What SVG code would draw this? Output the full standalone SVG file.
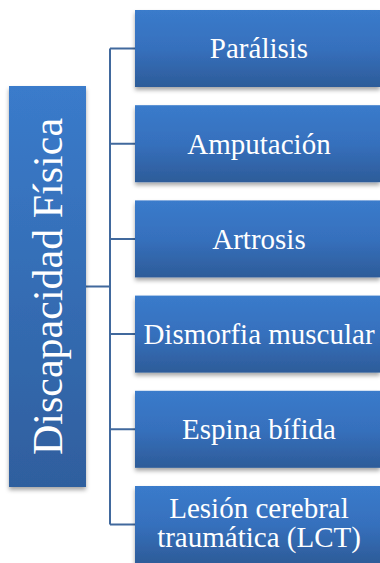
<svg xmlns="http://www.w3.org/2000/svg" width="380" height="563" viewBox="0 0 380 563">
<defs>
<linearGradient id="g" x1="0" y1="0" x2="0" y2="1">
<stop offset="0" stop-color="#3a7bcb"/>
<stop offset="0.5" stop-color="#3670bd"/>
<stop offset="1" stop-color="#2d5c99"/>
</linearGradient>
<linearGradient id="gl" x1="0" y1="0" x2="0" y2="1">
<stop offset="0" stop-color="#3a7bcb"/>
<stop offset="1" stop-color="#2f5f9e"/>
</linearGradient>
<filter id="sh" x="-10%" y="-10%" width="120%" height="130%">
<feDropShadow dx="0" dy="3" stdDeviation="2" flood-color="#000" flood-opacity="0.35"/>
</filter>
</defs>
<style>
.box{fill:url(#g);filter:url(#sh)}
.t{font-family:"Liberation Serif","Times New Roman",serif;fill:#fff;font-size:29px;text-anchor:middle}
.c{fill:none;stroke:#41699d;stroke-width:2}
</style>
<g id="connectors">
<path class="c" d="M86,286.5 H110 M110,48.5 V524.5 M110,48.5 H135 M110,143.7 H135 M110,238.9 H135 M110,334 H135 M110,429.3 H135 M110,524.5 H135"/>
</g>
<g id="root">
<rect x="9" y="86" width="77" height="401" fill="url(#gl)" filter="url(#sh)"/>
<text class="t" style="font-size:42px" transform="translate(62,286.5) rotate(-90)">Discapacidad Física</text>
</g>
<g id="n1"><rect class="box" x="135" y="10" width="245" height="77"/><text class="t" x="259" y="58">Parálisis</text></g>
<g id="n2"><rect class="box" x="135" y="105.2" width="245" height="77"/><text class="t" x="259" y="153.5">Amputación</text></g>
<g id="n3"><rect class="box" x="135" y="200.4" width="245" height="77"/><text class="t" x="259" y="248.7">Artrosis</text></g>
<g id="n4"><rect class="box" x="135" y="295.6" width="245" height="77"/><text class="t" x="259" y="344">Dismorfia muscular</text></g>
<g id="n5"><rect class="box" x="135" y="390.8" width="245" height="77"/><text class="t" x="259" y="439">Espina bífida</text></g>
<g id="n6"><rect class="box" x="135" y="486" width="245" height="77"/><text class="t" x="259" y="517.5">Lesión cerebral</text><text class="t" x="259" y="547">traumática (LCT)</text></g>
</svg>
